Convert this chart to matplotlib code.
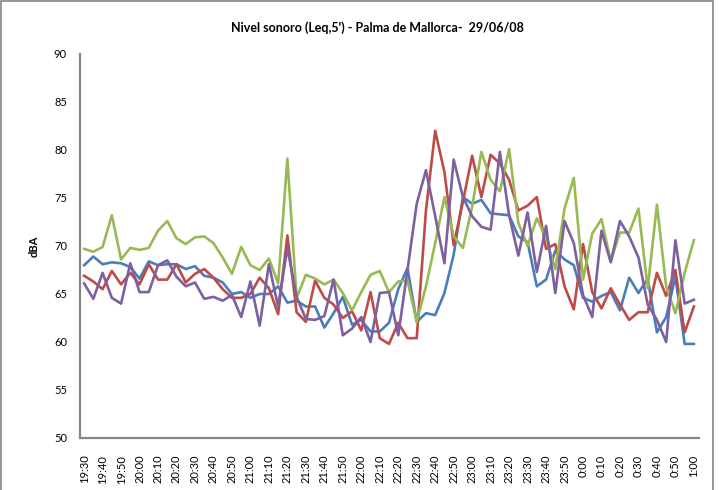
import matplotlib
matplotlib.use('Agg')
import matplotlib.pyplot as plt
from matplotlib.patches import Rectangle

# x tick labels, one every 10 minutes (data every 5 minutes)
tick_labels = ["19:30", "19:40", "19:50", "20:00", "20:10", "20:20", "20:30", "20:40",
               "20:50", "21:00", "21:10", "21:20", "21:30", "21:40", "21:50", "22:00",
               "22:10", "22:20", "22:30", "22:40", "22:50", "23:00", "23:10", "23:20",
               "23:30", "23:40", "23:50", "0:00", "0:10", "0:20", "0:30", "0:40",
               "0:50", "1:00"]

blue = [68.0, 68.9, 68.1, 68.3, 68.2, 67.8, 66.6, 68.4, 68.0, 68.1, 68.1, 67.6, 67.9,
        66.9, 66.7, 66.2, 65.0, 65.2, 64.6, 65.0, 65.0, 65.8, 64.1, 64.3, 63.7, 63.7,
        61.5, 63.0, 64.7, 61.8, 62.3, 61.1, 61.1, 62.0, 65.5, 67.7, 62.1, 63.0, 62.8,
        65.1, 69.1, 75.1, 74.4, 74.8, 73.4, 73.3, 73.2, 71.0, 70.4, 65.8, 66.5, 69.5,
        68.6, 68.0, 64.6, 64.2, 64.8, 65.2, 63.3, 66.7, 65.1, 66.6, 61.0, 62.6, 66.8,
        59.8, 59.8]
red = [66.9, 66.3, 65.5, 67.4, 66.0, 67.2, 66.0, 68.1, 66.5, 66.5, 68.1, 66.2, 67.1,
       67.6, 66.7, 65.5, 64.6, 64.6, 65.0, 66.7, 65.6, 62.9, 71.1, 63.1, 62.1, 66.4,
       64.6, 63.9, 62.5, 63.2, 61.2, 65.2, 60.4, 59.8, 62.0, 60.4, 60.4, 73.7, 82.0,
       77.7, 70.1, 74.6, 79.4, 75.1, 79.5, 78.6, 76.9, 73.7, 74.2, 75.1, 69.7, 70.2,
       65.8, 63.4, 70.2, 65.2, 63.5, 65.6, 63.9, 62.3, 63.1, 63.1, 67.2, 64.8, 67.5,
       61.0, 63.7]
green = [69.7, 69.4, 69.9, 73.2, 68.6, 69.8, 69.6, 69.8, 71.6, 72.6, 70.8, 70.2, 70.9,
         71.0, 70.3, 68.8, 67.1, 69.9, 68.0, 67.5, 68.7, 66.1, 79.1, 64.6, 67.0, 66.6,
         66.0, 66.5, 65.1, 63.3, 65.2, 67.0, 67.4, 65.2, 66.3, 66.4, 62.1, 65.8, 70.3,
         75.1, 71.0, 69.8, 74.1, 79.8, 76.9, 75.7, 80.1, 72.4, 70.0, 72.9, 70.8, 67.6,
         73.9, 77.1, 66.5, 71.3, 72.8, 68.4, 71.4, 71.4, 73.9, 65.6, 74.3, 65.8, 63.0,
         67.2, 70.6]
purple = [66.1, 64.5, 67.2, 64.6, 64.0, 68.2, 65.2, 65.2, 68.0, 68.5, 66.8, 65.8, 66.2,
          64.5, 64.7, 64.3, 64.9, 62.6, 66.3, 61.7, 68.1, 63.7, 69.8, 64.7, 62.4, 62.3,
          62.7, 66.5, 60.7, 61.4, 62.6, 60.0, 65.1, 65.2, 60.7, 67.5, 74.4, 77.9, 73.1,
          68.2, 79.0, 75.1, 73.1, 72.0, 71.7, 79.8, 73.2, 69.0, 73.5, 67.3, 72.1, 65.1,
          72.6, 70.3, 64.9, 62.6, 71.6, 68.3, 72.6, 71.0, 68.8, 63.9, 62.3, 60.0, 70.6,
          64.0, 64.4]

plt.rcParams['font.family'] = ['Lato', 'DejaVu Sans']

fig = plt.figure(figsize=(7.19, 4.90), dpi=100)
ax = fig.add_axes([79.5 / 719, 1 - 438 / 490, 619 / 719, 384 / 490])

x = list(range(len(blue)))
ax.plot(x, blue, color='#4A7EBB', lw=1.9)
ax.plot(x, red, color='#BE4B48', lw=1.9)
ax.plot(x, green, color='#98B954', lw=1.9)
ax.plot(x, purple, color='#7D60A0', lw=1.9)

ax.set_xlim(-0.5, len(blue) - 0.5)
ax.set_ylim(50, 90)
ax.set_yticks(range(50, 91, 5))
ax.set_xticks(range(0, len(blue), 2))
ax.set_xticklabels(tick_labels, rotation=90, fontsize=8)
ax.tick_params(axis='both', length=0, labelsize=8)
ax.tick_params(axis='x', pad=12)
ax.tick_params(axis='y', pad=9)

for side in ['top', 'right']:
    ax.spines[side].set_visible(False)
for side in ['left', 'bottom']:
    ax.spines[side].set_color('#868686')
    ax.spines[side].set_linewidth(1.6)

ax.set_ylabel("dBA", fontsize=8, fontweight='bold')
ax.yaxis.set_label_coords(-0.064, 0.5)

fig.text(377 / 719, 1 - 28 / 490, "Nivel sonoro (Leq,5') - Palma de Mallorca-  29/06/08",
         ha='center', va='center', fontsize=9, fontweight='bold')

# outer chart border
fig.patches.append(Rectangle((0.002, -0.02), 0.99, 1.017, transform=fig.transFigure,
                             fill=False, edgecolor='#868686', lw=1.2))

fig.savefig('out.png', dpi=100)
